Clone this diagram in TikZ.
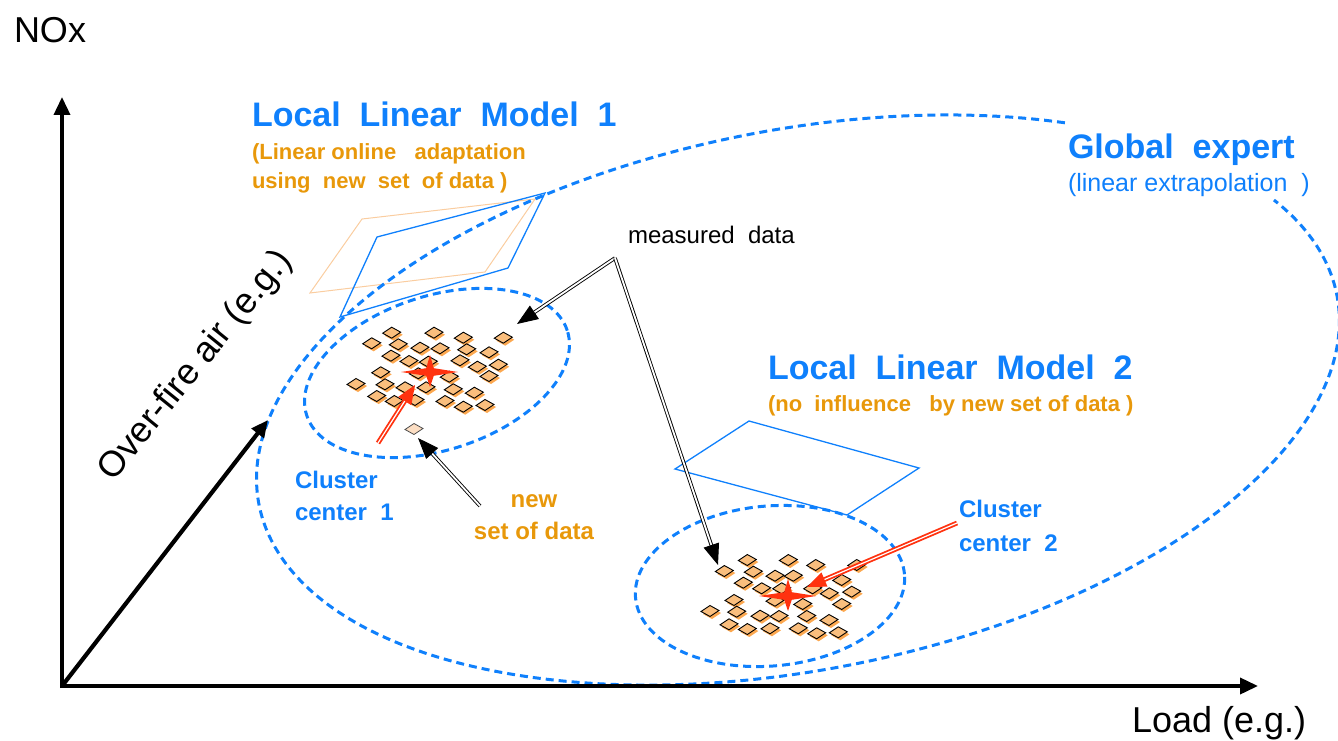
\documentclass[tikz,border=0pt]{standalone}
\usepackage{fontspec}
\setmainfont{Liberation Sans}
\usetikzlibrary{arrows.meta}

\definecolor{modelblue}{RGB}{15,128,252}
\definecolor{noteorange}{RGB}{232,152,10}
\definecolor{datafill}{RGB}{250,190,125}
\definecolor{datashade}{RGB}{252,168,80}
\definecolor{newfill}{RGB}{252,222,195}
\definecolor{planeorange}{RGB}{250,205,160}
\definecolor{centerred}{RGB}{255,50,15}

\begin{document}
\begin{tikzpicture}[x=1pt, y=-1pt,
  lbl/.style={inner sep=0pt, outer sep=0pt},
  axistext/.style={lbl, font=\fontsize{36}{42}\selectfont, text=black},
  modeltitle/.style={lbl, font=\bfseries\fontsize{34}{40}\selectfont, text=modelblue},
  modelnote/.style={lbl, font=\bfseries\fontsize{22}{26}\selectfont, text=noteorange},
  globalnote/.style={lbl, font=\fontsize{25}{30}\selectfont, text=modelblue},
  clusterlabel/.style={lbl, font=\bfseries\fontsize{24}{30}\selectfont, text=modelblue},
  datalabel/.style={lbl, font=\bfseries\fontsize{24}{30}\selectfont, text=noteorange},
  measlabel/.style={lbl, font=\fontsize{24}{30}\selectfont, text=black},
  regiondash/.style={draw=modelblue, line width=3pt, dash pattern=on 8pt off 5pt},
  axisline/.style={draw=black, line width=3.6pt, -{Triangle[length=18pt, width=16pt]}},
  obliqueline/.style={draw=black, line width=4.2pt, -{Triangle[length=17pt, width=15pt]}},
  hollowarrow/.style={draw=black, line width=0.9pt, double=white, double distance=1.8pt,
    -{Triangle[length=21pt, width=16pt]}},
  redarrow/.style={draw=centerred, line width=1.8pt, double=white, double distance=1.2pt,
    -{Triangle[length=19pt, width=15pt]}},
  datum/.pic={
    \fill[datashade] (-7,3) -- (2,-3) -- (11,2) -- (2,8) -- cycle;
    \filldraw[fill=datafill, draw=black, line width=0.9pt]
      (-9,0.5) -- (0,-5.5) -- (9,-0.5) -- (0,5.5) -- cycle;
  },
  newdatum/.pic={
    \filldraw[fill=newfill, draw=black!70, line width=0.8pt]
      (-9,0.5) -- (0,-5.5) -- (9,-0.5) -- (0,5.5) -- cycle;
  },
  centerstar/.pic={
    \fill[centerred] (28,0) -- (3.8,-3.8) -- (0,-17) -- (-3.8,-3.8) -- (-29,0)
      -- (-3.8,3.8) -- (0,15) -- (3.8,3.8) -- cycle;
  }
]
\useasboundingbox (0,0) rectangle (1338,741);

% local model planes
\draw[planeorange, line width=1pt] (310,293) -- (362,219) -- (535,199) -- (485,272) -- cycle;
\draw[modelblue, line width=1.3pt] (340,317) -- (377,237) -- (545,193) -- (508,268) -- cycle;
\draw[modelblue, line width=1.3pt] (675,469) -- (749,421) -- (919,468) -- (847,515) -- cycle;

% validity region of the global expert (open behind its label)
\begin{scope}[shift={(798,400)}, rotate=11]
  \draw[regiondash] (55:549pt and 270pt)
    arc[start angle=55, end angle=383, x radius=549pt, y radius=270pt];
\end{scope}

% cluster regions
\begin{scope}[shift={(437,373)}, rotate=18]
  \draw[regiondash] (0,0) ellipse[x radius=137pt, y radius=77pt];
\end{scope}
\begin{scope}[shift={(770,586)}, rotate=5]
  \draw[regiondash] (0,0) ellipse[x radius=135pt, y radius=80pt];
\end{scope}

% measured data, cluster 1
\foreach \px/\py in {391.7/332.7, 434/332.7, 463.3/337.7, 503.3/337.7, 371.7/343.3,
  398.3/344.3, 420/347.7, 440/348.3, 466.7/349.3, 489/352.3, 391/355.7, 409/361,
  428.3/361.7, 460/360.3, 477.3/366.7, 498.3/364.7, 380.7/372.3, 418.3/373.3,
  449.3/376.7, 489/376, 356/384, 385/384.3, 405/387.3, 426/387.3, 453.3/389.3,
  474.3/392.7, 376.7/396, 394.3/401, 415/400, 445/401, 463.3/406.7, 485/405}
  \pic at (\px,\py) {datum};
\pic at (414,429) {newdatum};

% measured data, cluster 2
\foreach \px/\py in {747.3/560, 788.3/560, 815.7/565, 856.7/565, 724.3/571, 753.3/571.7,
  775/575.7, 793.3/575.7, 841.7/580, 743.3/582.7, 761.7/588.3, 781.7/588.3,
  812.7/588.3, 829.3/593.3, 851.7/591.7, 734/600, 775/600.7, 802.7/604, 841.7/604,
  710/611, 736.7/611.7, 760/615.7, 779/616, 806.7/616, 829/620, 729/624.3,
  747.3/629, 770/628.3, 798.3/628.3, 816.7/633.3, 838.3/632.3}
  \pic at (\px,\py) {datum};

% cluster centres
\pic at (430,372) {centerstar};
\pic at (788,596) {centerstar};

% axes
\coordinate (O) at (62,686);
\coordinate (ytip) at (62,97);
\coordinate (xtip) at (1258,686);
\coordinate (ztip) at (268,420);
\draw[axisline] (62,688) -- (ytip);
\draw[axisline] (O) -- (xtip);
\draw[obliqueline] (O) -- (ztip);

\node[axistext, anchor=base west] (nox) at (14,43) {NOx};
\node[axistext, anchor=base west] (load) at (1132,732) {Load (e.g.)};
\node[axistext, rotate=51] (ofa) at (196,366) {Over-fire air (e.g.)};

% labels
\node[modeltitle, anchor=base west] (llm1) at (252,127) {Local\ \ Linear\ \ Model\ \ 1};
\node[modelnote, anchor=base west] (llm1a) at (252,159) {(Linear online\ \ \ adaptation};
\node[modelnote, anchor=base west] (llm1b) at (252,188) {using\ \ new\ \ set\ \ of data )};

\node[modeltitle, anchor=base west, fill=white] (glob) at (1068,158) {Global\ \ expert};
\node[globalnote, anchor=base west] (globa) at (1068,191) {(linear extrapolation\ \ )};

\node[modeltitle, anchor=base west] (llm2) at (768,379) {Local\ \ Linear\ \ Model\ \ 2};
\node[modelnote, anchor=base west] (llm2a) at (768,411) {(no\ \ influence\ \ \ by new set of data )};

\node[measlabel, anchor=base west] (meas) at (628,243) {measured\ \ data};

\node[clusterlabel, anchor=base west] (cc1a) at (295,488) {Cluster};
\node[clusterlabel, anchor=base west] (cc1b) at (295,520) {center\ \ 1};
\node[clusterlabel, anchor=base west] (cc2a) at (959,517) {Cluster};
\node[clusterlabel, anchor=base west] (cc2b) at (959,551) {center\ \ 2};

\node[datalabel, anchor=base] (newa) at (534,507) {new};
\node[datalabel, anchor=base] (newb) at (534,539) {set of data};

% pointers
\coordinate (md) at (615,258);
\coordinate (mdtipa) at (517,324);
\coordinate (mdtipb) at (718,565);
\draw[hollowarrow] (md) -- (mdtipa);
\draw[hollowarrow] (md) -- (mdtipb);

\coordinate (newtail) at (480,506);
\coordinate (newtip) at (418,438);
\draw[hollowarrow] (newtail) -- (newtip);

\coordinate (cone) at (378,443);
\coordinate (conetip) at (415,385);
\draw[redarrow] (cone) -- (conetip);

\coordinate (ctwo) at (957,523);
\coordinate (ctwotip) at (807,587);
\draw[redarrow] (ctwo) -- (ctwotip);
\end{tikzpicture}
\end{document}
